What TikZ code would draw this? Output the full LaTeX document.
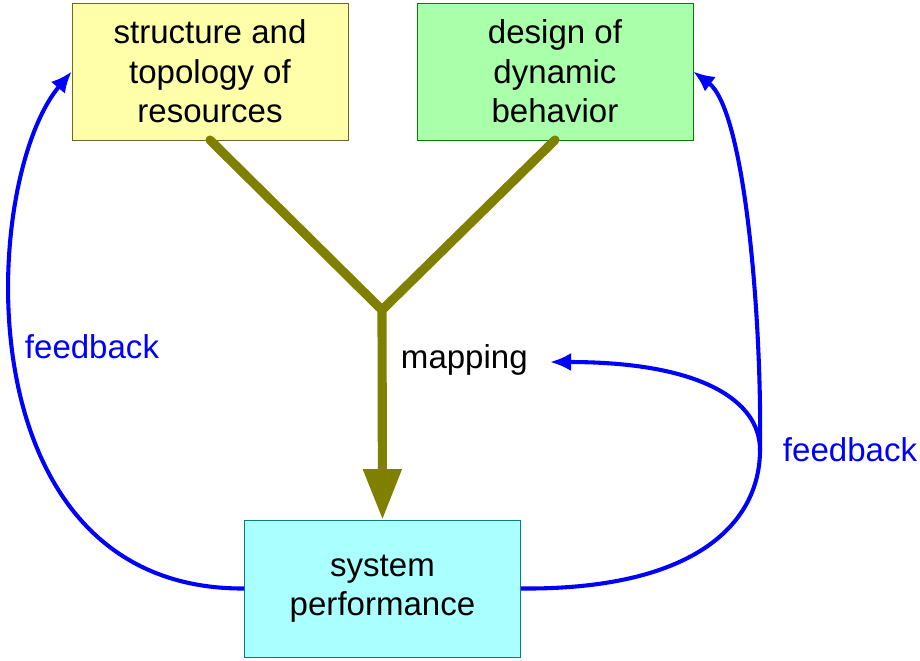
\documentclass[tikz,border=0pt]{standalone}
\usepackage{fontspec}
\setmainfont{Liberation Sans}
\usetikzlibrary{arrows.meta}
\definecolor{paleyellow}{HTML}{FFFFAA}
\definecolor{palegreen}{HTML}{AAFFAA}
\definecolor{palecyan}{HTML}{AAFFFF}
\definecolor{mapolive}{HTML}{808000}
\begin{document}
\begin{tikzpicture}[x=0.025cm,y=-0.025cm,
    box/.style={draw,minimum width=276*0.025cm,minimum height=137*0.025cm,align=center,
      font=\fontsize{23.5}{28}\selectfont},
    map/.style={draw=mapolive,line width=6.5pt},
    fb/.style={draw=blue,line width=2.9pt,-{Latex[length=15pt,width=13pt]}},
    lbl/.style={font=\fontsize{23.5}{28}\selectfont}]
  \useasboundingbox (0,0) rectangle (920,660);
  \node[box,fill=paleyellow,draw=olive!70!black] (res) at (210,71.5) {structure and\\topology of\\resources};
  \node[box,fill=palegreen,draw=green!50!black] (dyn) at (555,71.5) {design of\\dynamic\\behavior};
  \node[box,fill=palecyan,draw=teal] (perf) at (382.5,588.5) {system\\performance};
  \coordinate (fork) at (382,310);
  \coordinate (loop) at (760,450);
  \draw[map,line cap=round] (210,140) -- (fork) -- (555,140);
  \draw[map,-{Triangle[length=36pt,width=26pt]}] (fork) -- (perf.north);
  \node[lbl,anchor=west] (map) at (396,360) {mapping};
  \draw[fb] (perf.west) .. controls (-40,590) and (-20,180) .. (res.west);
  \draw[fb] (perf.east) .. controls (700,590) and (760,520) .. (loop)
    .. controls (762,320) and (745,110) .. (dyn.east);
  \draw[fb] (loop) .. controls (760,400) and (700,362) .. (550,362);
  \node[lbl,text=blue] (fbl) at (92,347) {feedback};
  \node[lbl,text=blue] (fbr) at (850,450) {feedback};
\end{tikzpicture}
\end{document}
